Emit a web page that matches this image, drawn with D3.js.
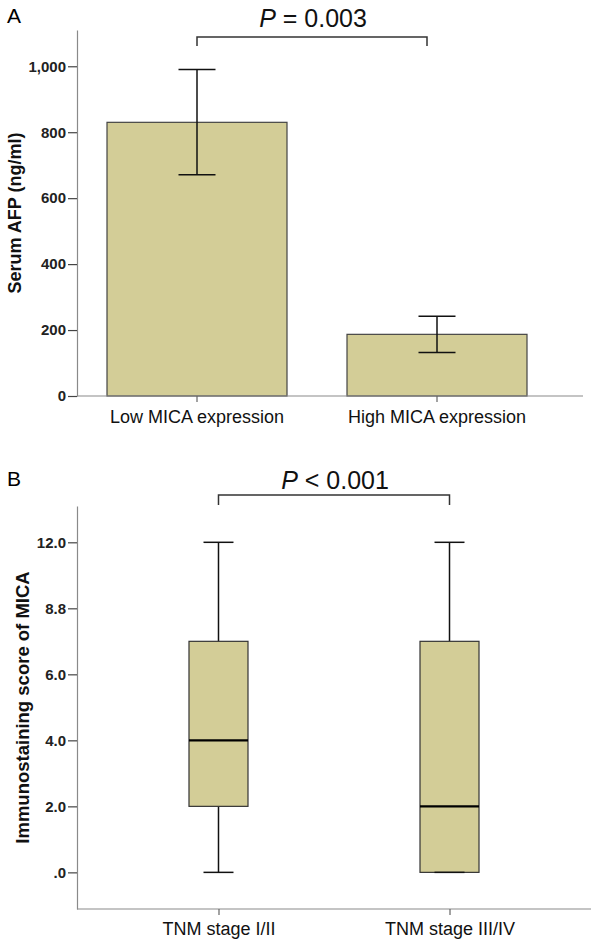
<!DOCTYPE html>
<html>
<head>
<meta charset="utf-8">
<script src="https://cdn.jsdelivr.net/npm/d3@7"></script>
<style>
body { margin: 0; background: #fff; }
text { font-family: "Liberation Sans", Arial, sans-serif; }
</style>
</head>
<body>
<div id="chart-area"></div>
<script>
// Panel A data
const groupsA = ["Low MICA expression", "High MICA expression"]
const afpMean = [830, 187]
const afpLower = [671, 132]
const afpUpper = [990, 242]
const afpTicks = [0, 200, 400, 600, 800, 1000]

// Panel B data (in axis units)
const groupsB = ["TNM stage I/II", "TNM stage III/IV"]
const scoreMin = [0, 0]
const scoreQ1 = [2, 0]
const scoreMedian = [4, 2]
const scoreQ3 = [7, 7]
const scoreMax = [10, 10]
const scoreTicks = [0, 2, 4, 6, 8, 10]
const scoreTickLabels = [".0", "2.0", "4.0", "6.0", "8.8", "12.0"]

const FILL = "#d3cd97"
const AXIS = "#8a8a8a"

const svg = d3.select("#chart-area").append("svg")
    .attr("width", 600)
    .attr("height", 948)

function styleYAxis(sel) {
    sel.select(".domain").attr("stroke", AXIS).attr("stroke-width", 1.2)
    sel.selectAll(".tick line").attr("stroke", "#444").attr("stroke-width", 1.2)
    sel.selectAll(".tick text")
        .attr("font-size", "15px")
        .attr("font-weight", "bold")
        .attr("fill", "#222")
        .attr("font-family", "Liberation Sans, Arial, sans-serif")
}

function styleXAxis(sel) {
    sel.select(".domain").remove()
    sel.selectAll(".tick line").attr("stroke", "#666").attr("stroke-width", 1.2)
    sel.selectAll(".tick text")
        .attr("font-size", "18px")
        .attr("fill", "#111")
        .attr("font-family", "Liberation Sans, Arial, sans-serif")
}

function bracket(x1, x2, yLine, yEnd, cx, baseline, op, val) {
    svg.append("path")
        .attr("d", `M${x1},${yEnd}V${yLine}H${x2}V${yEnd}`)
        .attr("fill", "none")
        .attr("stroke", "#333")
        .attr("stroke-width", 1.5)
    const t = svg.append("text")
        .attr("x", cx)
        .attr("y", baseline)
        .attr("text-anchor", "middle")
        .attr("font-size", "25px")
        .attr("fill", "#111")
    t.append("tspan").attr("font-style", "italic").text("P")
    t.append("tspan").text(` ${op} ${val}`)
}

// ---------- Panel A ----------
const xA = d3.scaleBand()
    .domain(groupsA)
    .range([77, 557])
    .paddingInner(0.25)
    .paddingOuter(0.125)

const yA = d3.scaleLinear()
    .domain([0, 1110])
    .range([396, 30])

svg.append("text")
    .attr("x", 7).attr("y", 23)
    .attr("font-size", "21px")
    .text("A")

const barsA = svg.append("g")
barsA.selectAll("rect")
    .data(groupsA)
    .enter().append("rect")
    .attr("x", d => xA(d))
    .attr("width", xA.bandwidth())
    .attr("y", (d, i) => yA(afpMean[i]))
    .attr("height", (d, i) => yA(0) - yA(afpMean[i]))
    .attr("fill", FILL)
    .attr("stroke", "#444")
    .attr("stroke-width", 1.2)

// error bars
const errA = svg.append("g").attr("stroke", "#111").attr("stroke-width", 1.5)
groupsA.forEach((g, i) => {
    const cx = xA(g) + xA.bandwidth() / 2
    errA.append("line")
        .attr("x1", cx).attr("x2", cx)
        .attr("y1", yA(afpUpper[i])).attr("y2", yA(afpLower[i]))
    ;[afpUpper[i], afpLower[i]].forEach(v => {
        errA.append("line")
            .attr("x1", cx - 18.5).attr("x2", cx + 18.5)
            .attr("y1", yA(v)).attr("y2", yA(v))
    })
})

svg.append("g")
    .attr("transform", "translate(77,0)")
    .call(d3.axisLeft(yA).tickValues(afpTicks).tickFormat(d3.format(",")).tickSize(9).tickSizeOuter(0).tickPadding(2))
    .call(styleYAxis)

svg.append("line")
    .attr("x1", 77).attr("x2", 583)
    .attr("y1", 396).attr("y2", 396)
    .attr("stroke", AXIS).attr("stroke-width", 1.2)

svg.append("g")
    .attr("transform", "translate(0,396)")
    .call(d3.axisBottom(xA).tickSize(6).tickPadding(8))
    .call(styleXAxis)

svg.append("text")
    .attr("transform", `translate(21,${(yA.range()[0] + yA.range()[1]) / 2}) rotate(-90)`)
    .attr("text-anchor", "middle")
    .attr("font-size", "18px")
    .attr("font-weight", "bold")
    .attr("fill", "#111")
    .text("Serum AFP (ng/ml)")

bracket(xA(groupsA[0]) + xA.bandwidth() / 2, xA(groupsA[1]) + xA.bandwidth() / 2 - 10,
    37, 46, 313, 27, "=", "0.003")

// ---------- Panel B ----------
const xB = d3.scalePoint()
    .domain(groupsB)
    .range([77, 591])
    .padding(0.6125)

const yB = d3.scaleLinear()
    .domain([-1.11, 11.1])
    .range([909, 506])

svg.append("text")
    .attr("x", 7).attr("y", 486)
    .attr("font-size", "21px")
    .text("B")

const boxW = 59
const boxes = svg.append("g")
groupsB.forEach((g, i) => {
    const cx = xB(g)
    // whiskers
    boxes.append("line")
        .attr("x1", cx).attr("x2", cx)
        .attr("y1", yB(scoreMax[i])).attr("y2", yB(scoreQ3[i]))
        .attr("stroke", "#111").attr("stroke-width", 1.5)
    boxes.append("line")
        .attr("x1", cx).attr("x2", cx)
        .attr("y1", yB(scoreQ1[i])).attr("y2", yB(scoreMin[i]))
        .attr("stroke", "#111").attr("stroke-width", 1.5)
    // box
    boxes.append("rect")
        .attr("x", cx - boxW / 2)
        .attr("width", boxW)
        .attr("y", yB(scoreQ3[i]))
        .attr("height", yB(scoreQ1[i]) - yB(scoreQ3[i]))
        .attr("fill", FILL)
        .attr("stroke", "#333")
        .attr("stroke-width", 1.2)
    // caps
    ;[scoreMax[i], scoreMin[i]].forEach(v => {
        boxes.append("line")
            .attr("x1", cx - 15).attr("x2", cx + 15)
            .attr("y1", yB(v)).attr("y2", yB(v))
            .attr("stroke", "#111").attr("stroke-width", 1.5)
    })
    // median
    boxes.append("line")
        .attr("x1", cx - boxW / 2).attr("x2", cx + boxW / 2)
        .attr("y1", yB(scoreMedian[i])).attr("y2", yB(scoreMedian[i]))
        .attr("stroke", "#000").attr("stroke-width", 2.2)
})

svg.append("g")
    .attr("transform", "translate(77,0)")
    .call(d3.axisLeft(yB).tickValues(scoreTicks).tickFormat((d, i) => scoreTickLabels[i]).tickSize(9).tickSizeOuter(0).tickPadding(2))
    .call(styleYAxis)

svg.append("line")
    .attr("x1", 77).attr("x2", 591)
    .attr("y1", 909).attr("y2", 909)
    .attr("stroke", AXIS).attr("stroke-width", 1.2)

svg.append("g")
    .attr("transform", "translate(0,909)")
    .call(d3.axisBottom(xB).tickSize(6).tickPadding(7))
    .call(styleXAxis)

svg.append("text")
    .attr("transform", `translate(29,${(yB.range()[0] + yB.range()[1]) / 2}) rotate(-90)`)
    .attr("text-anchor", "middle")
    .attr("font-size", "18.5px")
    .attr("font-weight", "bold")
    .attr("fill", "#111")
    .text("Immunostaining score of MICA")

bracket(xB(groupsB[0]), xB(groupsB[1]), 495, 505, 335, 489, "<", "0.001")
</script>
</body>
</html>
